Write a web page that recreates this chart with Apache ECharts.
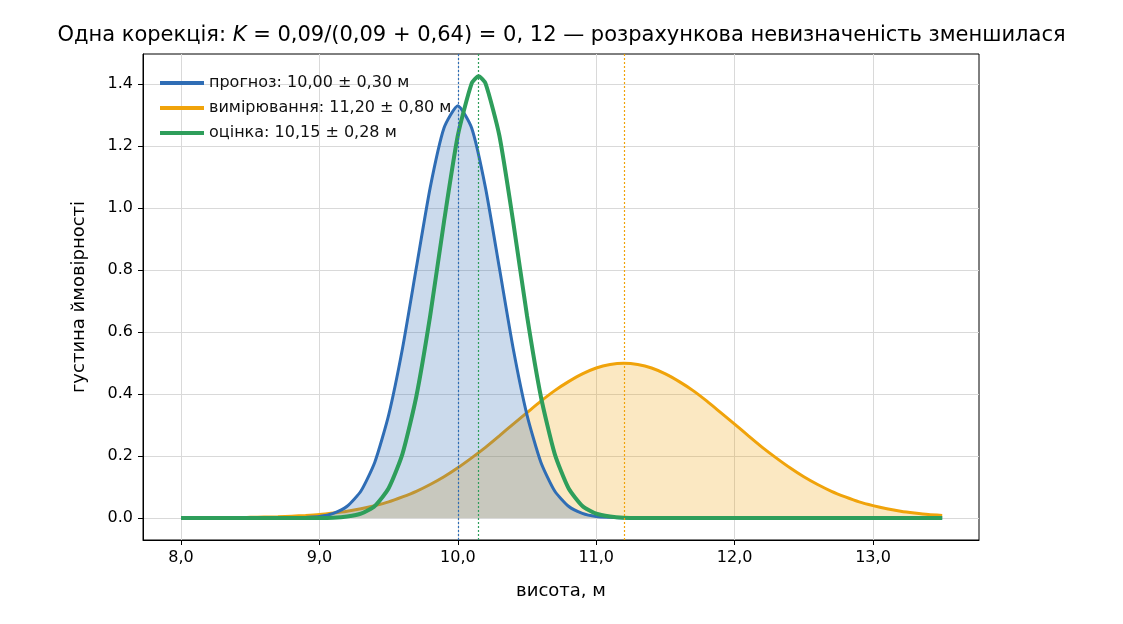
<!DOCTYPE html>
<html><head><meta charset="utf-8">
<script src="https://cdn.jsdelivr.net/npm/echarts@6/dist/echarts.min.js"></script>
<style>html,body{margin:0;background:#fff}#c{width:1123px;height:624px}</style>
</head><body><div id="c"></div>
<script>
// x grid 8.0 .. 13.5 step 0.1
const xs = [];
for (let i = 0; i <= 55; i++) xs.push(+(8 + i * 0.1).toFixed(1));
const prior = [0,0,0,0,0,0,0,0,0,0.002,0.005,0.015,0.038,0.087,0.180,0.332,0.547,0.807,1.065,1.258,
  1.33,1.258,1.065,0.807,0.547,0.332,0.180,0.087,0.038,0.015,0.005,0.002,0,0,0,0,0,0,0,0,
  0,0,0,0,0,0,0,0,0,0,0,0,0,0,0,0];
const meas = [0,0,0,0.001,0.001,0.002,0.003,0.004,0.006,0.008,0.011,0.016,0.022,0.030,0.040,0.052,0.068,0.086,0.108,0.133,
  0.162,0.194,0.228,0.265,0.303,0.340,0.377,0.411,0.440,0.465,0.484,0.495,0.499,0.495,0.484,0.465,0.440,0.411,0.377,0.340,
  0.303,0.265,0.228,0.194,0.162,0.133,0.108,0.086,0.068,0.052,0.040,0.030,0.022,0.016,0.011,0.008];
// estimate read on its own grid, with the peak at 10.15
const estX = [8.0, 9.0, 9.1, 9.2, 9.3, 9.4, 9.5, 9.6, 9.7, 9.8, 9.9, 10.0, 10.1, 10.15, 10.2, 10.3, 10.4, 10.5,
  10.6, 10.7, 10.8, 10.9, 11.0, 11.1, 11.2, 11.3, 13.5];
const est = [0, 0, 0.001, 0.005, 0.014, 0.039, 0.096, 0.207, 0.392, 0.652, 0.956, 1.234, 1.402, 1.425, 1.402,
  1.234, 0.956, 0.652, 0.392, 0.207, 0.096, 0.039, 0.014, 0.005, 0.001, 0, 0];
const xTicks = [8, 9, 10, 11, 12, 13];
const yTicks = [0, 0.2, 0.4, 0.6, 0.8, 1.0, 1.2, 1.4];
const names = ['прогноз: 10,00 ± 0,30 м', 'вимірювання: 11,20 ± 0,80 м', 'оцінка: 10,15 ± 0,28 м'];
const means = [10.0, 11.2, 10.15];
const colors = ['#2f6db5', '#f0a30a', '#2e9e5b'];

const pairs = (x, a) => x.map((v, i) => [v, a[i]]);
const fmt = v => v.toFixed(1).replace('.', ',');
const chart = echarts.init(document.getElementById('c'));
const vline = (x, c) => ({
  silent: true, symbol: 'none', label: {show: false},
  lineStyle: {color: c, type: [2, 2], width: 1.2},
  data: [[{coord: [x, -0.071]}, {coord: [x, 1.497]}]]
});
chart.setOption({
  animation: false,
  textStyle: {fontFamily: 'DejaVu Sans'},
  title: {
    text: 'Одна корекція: {i|K} = 0,09/(0,09 + 0,64) = 0, 12 — розрахункова невизначеність зменшилася',
    left: 'center', top: 20,
    textStyle: {fontSize: 21, fontWeight: 'normal', color: '#000', fontFamily: 'DejaVu Sans',
      rich: {i: {fontStyle: 'italic', fontSize: 21, fontFamily: 'DejaVu Sans'}}}
  },
  grid: {left: 143, right: 144, top: 54, bottom: 84, show: true, borderColor: '#000', borderWidth: 1},
  legend: {
    left: 155, top: 70, orient: 'vertical', itemGap: 9, itemWidth: 44, itemHeight: 4,
    icon: 'rect', textStyle: {fontSize: 16, color: '#111'},
    data: names
  },
  xAxis: {
    type: 'value', min: 7.725, max: 13.766,
    name: 'висота, м', nameLocation: 'middle', nameGap: 42, nameTextStyle: {fontSize: 18, color: '#000'},
    axisLine: {show: true, onZero: false, lineStyle: {color: '#000'}},
    axisTick: {show: true, customValues: xTicks, length: 5, lineStyle: {color: '#000'}},
    axisLabel: {customValues: xTicks, formatter: fmt, fontSize: 16, color: '#000', margin: 10},
    splitLine: {show: true, lineStyle: {color: '#d9d9d9'}}
  },
  yAxis: {
    type: 'value', min: -0.071, max: 1.497,
    name: 'густина ймовірності', nameLocation: 'middle', nameGap: 55, nameTextStyle: {fontSize: 18, color: '#000'},
    axisLine: {show: true, onZero: false, lineStyle: {color: '#000'}},
    axisTick: {show: true, customValues: yTicks, length: 5, lineStyle: {color: '#000'}},
    axisLabel: {customValues: yTicks, formatter: v => v.toFixed(1), fontSize: 16, color: '#000', margin: 10},
    splitLine: {show: true, lineStyle: {color: '#d9d9d9'}}
  },
  series: [
    {name: names[0], type: 'line', data: pairs(xs, prior), smooth: 0.2, showSymbol: false,
     lineStyle: {color: colors[0], width: 3}, itemStyle: {color: colors[0]},
     areaStyle: {color: 'rgba(47,109,181,0.25)', opacity: 1, origin: 0}, markLine: vline(means[0], colors[0]), z: 3},
    {name: names[1], type: 'line', data: pairs(xs, meas), smooth: 0.2, showSymbol: false,
     lineStyle: {color: colors[1], width: 3}, itemStyle: {color: colors[1]},
     areaStyle: {color: 'rgba(240,163,10,0.25)', opacity: 1, origin: 0}, markLine: vline(means[1], colors[1]), z: 2},
    {name: names[2], type: 'line', data: pairs(estX, est), smooth: 0.2, showSymbol: false,
     lineStyle: {color: colors[2], width: 4}, itemStyle: {color: colors[2]},
     markLine: vline(means[2], colors[2]), z: 4}
  ]
});
</script></body></html>
